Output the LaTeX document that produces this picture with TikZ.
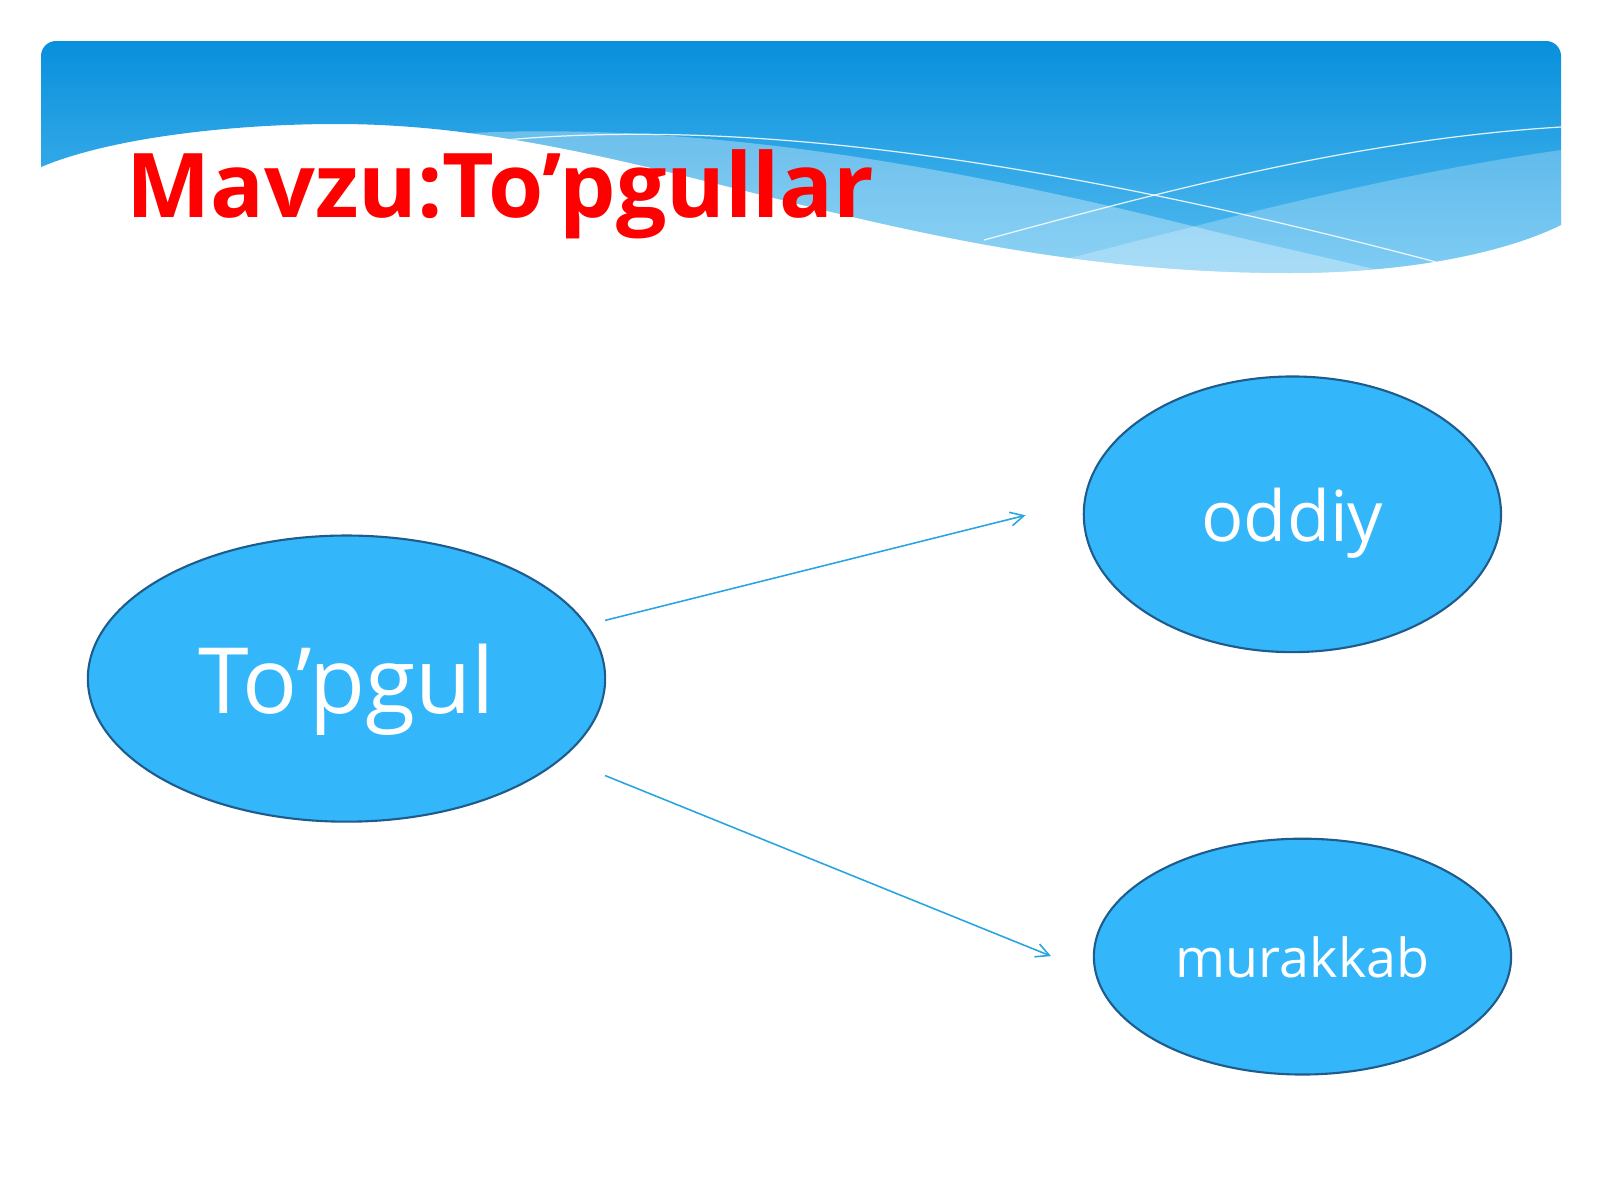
\documentclass[tikz,border=0pt]{standalone}
\usepackage{fontspec}
\setmainfont{Open Sans}
\usetikzlibrary{arrows.meta,shapes.geometric}
\definecolor{hdrtop}{HTML}{0890DC}
\definecolor{hdrbot}{HTML}{55BCF0}
\definecolor{ellfill}{HTML}{33B6FA}
\definecolor{elldraw}{HTML}{1D5C8C}
\definecolor{arrcol}{HTML}{2AA5E0}
\definecolor{titlered}{HTML}{FF0000}
\tikzset{
  bubble/.style={ellipse, draw=elldraw, line width=0.6pt, fill=ellfill, text=white, inner sep=0pt, text depth=0pt},
  link/.style={draw=arrcol, line width=0.45pt, -{Straight Barb[length=3.8pt,width=3.9pt]}},
  wline/.style={draw=white, line width=0.35pt, opacity=0.85}
}
\begin{document}
\begin{tikzpicture}[x=0.01cm,y=-0.01cm]
\useasboundingbox (0,0) rectangle (1600,1200);
\def\hdr{(41,167) -- (41,56) .. controls (41,47.7) and (47.7,41) .. (56,41) -- (1546,41) .. controls (1554.3,41) and (1561,47.7) .. (1561,56) -- (1561,225) .. controls (1500,255) and (1400,273) .. (1290,273) .. controls (890,273) and (637,124) .. (337,124) .. controls (230,124) and (110,138) .. (41,167) -- cycle}
\shade[top color=hdrtop, bottom color=hdrbot] \hdr;
\begin{scope}
\clip \hdr;
\fill[white, opacity=0.33] (470,133) .. controls (700,122) and (950,165) .. (1200,228) .. controls (1300,253) and (1380,268) .. (1450,290) -- (400,300) -- cycle;
\fill[white, opacity=0.25] (1000,275) .. controls (1150,240) and (1350,180) .. (1561,150) -- (1561,300) -- (1000,300) -- cycle;
\draw[wline] (505,140) .. controls (750,118) and (1050,160) .. (1436,262);
\draw[wline] (984,240) .. controls (1150,195) and (1350,140) .. (1561,127);
\end{scope}
\node[anchor=base west, text=titlered, font=\bfseries\fontsize{25.4}{30}\selectfont, inner sep=0pt] (title) at (125.5,217) {Mavzu:To’pgullar};
\node[bubble, minimum width=5.17cm, minimum height=2.86cm, font=\fontsize{26}{31}\selectfont] (topgul) at (346.5,678.6) {To’pgul};
\node[bubble, minimum width=4.17cm, minimum height=2.755cm, font=\fontsize{20}{24}\selectfont] (oddiy) at (1292.4,514.3) {oddiy};
\node[bubble, minimum width=4.17cm, minimum height=2.357cm, font=\fontsize{15.3}{19}\selectfont] (murakkab) at (1302.5,956.6) {murakkab};
\coordinate (s1) at (605,620.4);
\coordinate (e1) at (1025.5,515.3);
\coordinate (s2) at (605,775.5);
\coordinate (e2) at (1051,956.1);
\draw[link] (s1) -- (e1);
\draw[link] (s2) -- (e2);
\end{tikzpicture}
\end{document}
